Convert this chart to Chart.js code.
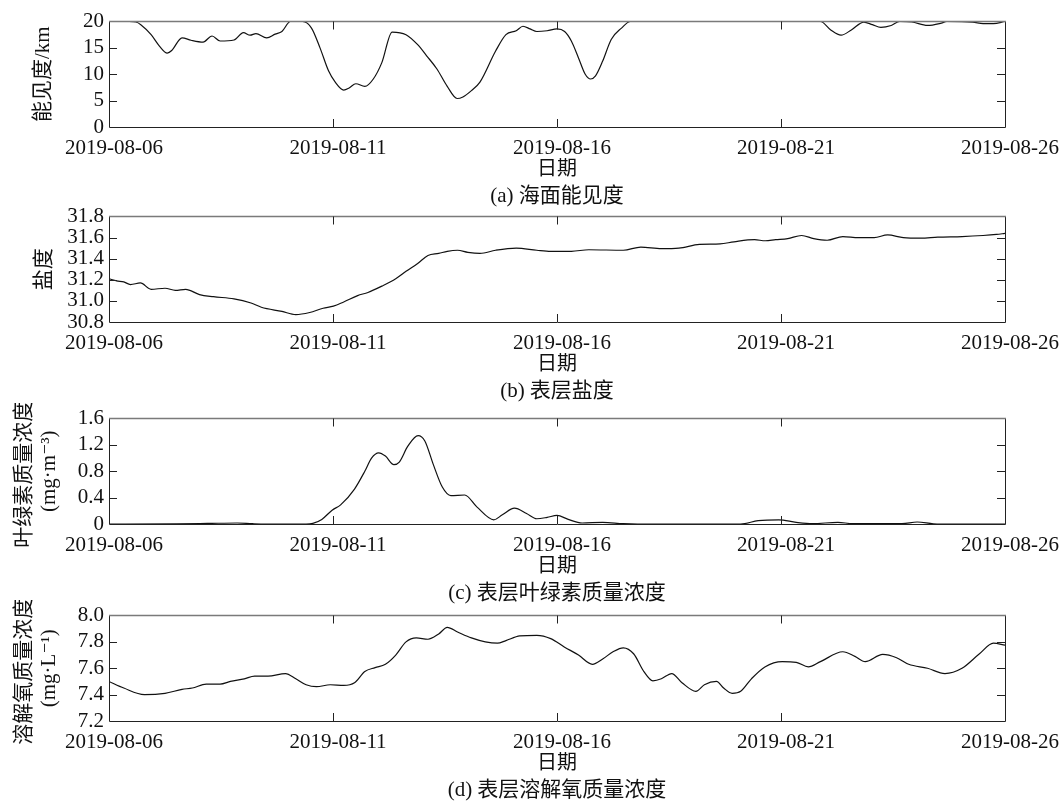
<!DOCTYPE html>
<html>
<head>
<meta charset="utf-8">
<script src="https://cdn.jsdelivr.net/npm/chart.js@4.4.1/dist/chart.umd.min.js"></script>
<style>
  html, body { margin: 0; padding: 0; background: #fff; width: 1062px; height: 801px; overflow: hidden; }
  .panel { position: absolute; left: 0; width: 1062px; height: 202px; }
  canvas { display: block; }
</style>
</head>
<body>
<div class="panel" style="top:6px"><canvas id="visChart" width="1062" height="202"></canvas></div>
<div class="panel" style="top:201px"><canvas id="salChart" width="1062" height="202"></canvas></div>
<div class="panel" style="top:403px"><canvas id="chlChart" width="1062" height="202"></canvas></div>
<div class="panel" style="top:600px"><canvas id="doChart" width="1062" height="202"></canvas></div>
<script>
// x values are days elapsed since 2019-08-06 00:00
const dateTicks = [0, 5, 10, 15, 20];
const dateLabels = ['2019-08-06', '2019-08-11', '2019-08-16', '2019-08-21', '2019-08-26'];

// (a) sea-surface visibility, km
const visibilityDays = [0, 0.45, 0.6, 0.71, 0.94, 1.13, 1.3, 1.4, 1.63, 1.83, 2.1, 2.3, 2.48, 2.79, 3.0, 3.15, 3.28, 3.52, 3.71, 3.86, 4.05, 4.32, 4.52, 4.71, 4.9, 5.05, 5.24, 5.36, 5.51, 5.71, 5.9, 6.09, 6.32, 6.63, 6.89, 7.09, 7.32, 7.55, 7.77, 7.9, 8.09, 8.28, 8.63, 8.86, 9.09, 9.24, 9.4, 9.55, 9.78, 10.0, 10.17, 10.32, 10.48, 10.63, 10.75, 10.86, 11.02, 11.21, 11.44, 11.64, 15.88, 16.11, 16.34, 16.57, 16.85, 17.04, 17.23, 17.46, 17.65, 17.92, 18.27, 18.58, 18.7, 19.28, 19.51, 19.74, 20];
const visibility = [20, 20, 19.9, 19.4, 17.5, 15.3, 14.0, 14.5, 16.9, 16.45, 16.1, 17.25, 16.3, 16.5, 17.9, 17.4, 17.7, 16.9, 17.6, 18.1, 20, 20, 18.75, 15.0, 10.65, 8.5, 7.0, 7.4, 8.2, 7.7, 9.1, 12.2, 18.0, 17.5, 15.6, 13.5, 11.0, 7.7, 5.4, 5.7, 6.9, 8.5, 14.4, 17.5, 18.25, 19.1, 18.6, 18.1, 18.25, 18.6, 18.1, 16.3, 13.1, 10.0, 9.1, 9.7, 12.5, 16.6, 18.75, 20, 20, 18.4, 17.4, 18.4, 19.9, 19.4, 18.9, 19.25, 20, 19.9, 19.25, 19.7, 20, 19.9, 19.6, 19.6, 20];
const visibilityTicks = [0, 5, 10, 15, 20];

// (b) surface salinity
const salinityDays = [0, 0.17, 0.33, 0.48, 0.7, 0.94, 1.25, 1.48, 1.71, 2.02, 2.33, 2.79, 3.17, 3.4, 3.86, 4.17, 4.48, 4.78, 5.01, 5.24, 5.55, 5.78, 6.09, 6.4, 6.63, 6.89, 7.12, 7.36, 7.55, 7.78, 8.01, 8.28, 8.63, 9.09, 9.55, 9.86, 10.32, 10.71, 11.48, 11.87, 12.33, 12.72, 13.18, 13.64, 13.95, 14.41, 14.65, 14.88, 15.15, 15.46, 15.73, 16.03, 16.38, 16.73, 17.08, 17.38, 17.73, 18.12, 18.5, 19.04, 19.51, 19.81, 20];
const salinity = [31.21, 31.19, 31.18, 31.155, 31.17, 31.11, 31.12, 31.10, 31.11, 31.06, 31.04, 31.02, 30.98, 30.94, 30.90, 30.87, 30.89, 30.93, 30.95, 30.99, 31.05, 31.08, 31.14, 31.21, 31.28, 31.355, 31.43, 31.45, 31.47, 31.48, 31.46, 31.45, 31.48, 31.50, 31.48, 31.47, 31.47, 31.485, 31.48, 31.51, 31.495, 31.50, 31.535, 31.54, 31.56, 31.58, 31.57, 31.58, 31.59, 31.62, 31.59, 31.575, 31.61, 31.60, 31.60, 31.625, 31.60, 31.595, 31.605, 31.61, 31.62, 31.63, 31.64];
const salinityTicks = [30.8, 31.0, 31.2, 31.4, 31.6, 31.8];

// (c) surface chlorophyll concentration, mg/m3
const chlorophyllDays = [0, 1.5, 2.2, 2.86, 3.2, 3.5, 4.4, 4.55, 4.75, 4.98, 5.17, 5.48, 5.71, 5.86, 6.02, 6.17, 6.36, 6.48, 6.67, 6.9, 7.05, 7.24, 7.44, 7.63, 7.94, 8.21, 8.59, 8.78, 9.05, 9.32, 9.55, 9.78, 10.0, 10.25, 10.56, 11.02, 11.48, 11.8, 14.1, 14.49, 14.95, 15.34, 15.7, 16.27, 16.6, 17.7, 18.04, 18.4, 18.6, 20];
const chlorophyll = [0, 0.002, 0.008, 0.015, 0.005, 0, 0, 0.01, 0.07, 0.21, 0.29, 0.53, 0.80, 1.00, 1.08, 1.03, 0.90, 0.94, 1.18, 1.34, 1.26, 0.90, 0.56, 0.43, 0.44, 0.26, 0.064, 0.14, 0.24, 0.16, 0.08, 0.10, 0.13, 0.07, 0.015, 0.025, 0.005, 0, 0, 0.05, 0.064, 0.025, 0.005, 0.025, 0.005, 0.005, 0.03, 0.003, 0, 0];
const chlorophyllTicks = [0, 0.4, 0.8, 1.2, 1.6];

// (d) surface dissolved oxygen concentration, mg/L
const oxygenDays = [0, 0.33, 0.79, 1.25, 1.63, 1.86, 2.17, 2.48, 2.71, 3.02, 3.25, 3.55, 3.94, 4.17, 4.4, 4.63, 4.94, 5.24, 5.48, 5.71, 5.94, 6.17, 6.4, 6.63, 6.86, 7.12, 7.36, 7.55, 7.78, 8.09, 8.4, 8.67, 8.86, 9.17, 9.55, 9.86, 10.17, 10.48, 10.79, 11.02, 11.25, 11.48, 11.71, 11.94, 12.14, 12.33, 12.56, 12.79, 13.1, 13.29, 13.56, 13.72, 13.91, 14.1, 14.34, 14.64, 15.03, 15.34, 15.61, 15.88, 16.38, 16.65, 16.88, 17.27, 17.58, 17.85, 18.27, 18.66, 19.04, 19.43, 19.74, 20];
const oxygen = [7.50, 7.45, 7.40, 7.41, 7.44, 7.45, 7.48, 7.48, 7.50, 7.52, 7.54, 7.54, 7.56, 7.52, 7.475, 7.46, 7.475, 7.47, 7.49, 7.575, 7.605, 7.63, 7.70, 7.80, 7.83, 7.82, 7.86, 7.91, 7.875, 7.83, 7.80, 7.79, 7.81, 7.845, 7.85, 7.825, 7.76, 7.70, 7.63, 7.67, 7.725, 7.755, 7.71, 7.575, 7.505, 7.52, 7.56, 7.49, 7.425, 7.475, 7.50, 7.45, 7.41, 7.425, 7.52, 7.61, 7.65, 7.645, 7.61, 7.65, 7.725, 7.69, 7.65, 7.705, 7.68, 7.63, 7.60, 7.56, 7.60, 7.71, 7.79, 7.775];
const oxygenTicks = [7.2, 7.4, 7.6, 7.8, 8.0];

const SERIF = "'Liberation Serif', 'Times New Roman', 'Noto Sans CJK SC', 'DejaVu Serif', serif";
const INK = '#111';

// Box frame with inward-pointing tick marks on all four sides
const frame = {
  id: 'frame',
  afterDatasetsDraw(chart) {
    const { ctx, chartArea: { left, right, top, bottom }, scales: { x, y } } = chart;
    const TL = 8;
    ctx.save();
    ctx.strokeStyle = '#222';
    ctx.lineWidth = 1;
    ctx.beginPath();
    ctx.moveTo(left + 0.5, top);
    ctx.lineTo(left + 0.5, bottom + 0.5);
    ctx.lineTo(right + 0.5, bottom + 0.5);
    ctx.lineTo(right + 0.5, top);
    ctx.stroke();
    ctx.strokeStyle = '#7a7a7a';
    ctx.lineWidth = 1.5;
    ctx.beginPath();
    ctx.moveTo(left, top);
    ctx.lineTo(right + 1, top);
    ctx.stroke();
    ctx.strokeStyle = '#222';
    ctx.lineWidth = 1;
    ctx.beginPath();
    x.ticks.forEach(t => {
      const px = Math.round(x.getPixelForValue(t.value)) + 0.5;
      if (px <= left + 1 || px >= right - 1) return;
      ctx.moveTo(px, bottom); ctx.lineTo(px, bottom - TL);
      ctx.moveTo(px, top); ctx.lineTo(px, top + TL);
    });
    y.ticks.forEach(t => {
      const py = Math.round(y.getPixelForValue(t.value)) + 0.5;
      if (py <= top + 1 || py >= bottom - 1) return;
      ctx.moveTo(left, py); ctx.lineTo(left + TL, py);
      ctx.moveTo(right, py); ctx.lineTo(right - TL, py);
    });
    ctx.stroke();
    ctx.restore();
  }
};

function makePanel(id, days, values, yTicks, yTitle, yTitlePad, caption, fmt) {
  return new Chart(document.getElementById(id), {
    type: 'line',
    data: {
      datasets: [{
        data: days.map((d, i) => ({ x: d, y: values[i] })),
        borderColor: INK,
        borderWidth: 1.2,
        pointRadius: 0,
        cubicInterpolationMode: 'monotone',
        fill: false
      }]
    },
    options: {
      responsive: false,
      animation: false,
      events: [],
      layout: { padding: { top: 14, right: 57, left: 0, bottom: 0 } },
      plugins: {
        legend: { display: false },
        tooltip: { enabled: false },
        title: {
          display: true,
          text: caption,
          position: 'bottom',
          fullSize: false,
          color: INK,
          font: { family: SERIF, size: 21, weight: 'normal', lineHeight: '24px' },
          padding: { top: 2, bottom: 0 }
        }
      },
      scales: {
        x: {
          type: 'linear',
          min: dateTicks[0],
          max: dateTicks[dateTicks.length - 1],
          grid: { display: false, drawTicks: false },
          border: { display: false },
          afterBuildTicks: s => { s.ticks = dateTicks.map(v => ({ value: v })); },
          afterFit: s => { s.height = 55; s.paddingLeft = 0; s.paddingRight = 0; },
          ticks: {
            callback: (v, i) => dateLabels[i],
            maxRotation: 0,
            autoSkip: false,
            padding: 9,
            labelOffset: 5,
            color: INK,
            font: { family: SERIF, size: 21 }
          },
          title: {
            display: true,
            text: '日期',
            color: INK,
            font: { family: SERIF, size: 20, lineHeight: '24px' },
            padding: { top: 0, bottom: 0 }
          }
        },
        y: {
          min: yTicks[0],
          max: yTicks[yTicks.length - 1],
          grid: { display: false, drawTicks: false },
          border: { display: false },
          afterBuildTicks: s => { s.ticks = yTicks.map(v => ({ value: v })); },
          afterFit: s => { s.width = 109; },
          ticks: {
            callback: v => fmt(v),
            autoSkip: false,
            padding: 5,
            color: INK,
            font: { family: SERIF, size: 21, lineHeight: 1 }
          },
          title: {
            display: true,
            text: yTitle,
            color: INK,
            font: { family: SERIF, size: 21, lineHeight: '25px' },
            padding: { top: yTitlePad, bottom: 0 }
          }
        }
      }
    },
    plugins: [frame]
  });
}

const intFmt = v => String(Math.round(v));
const oneDec = v => v.toFixed(1);
const chlFmt = v => (v === 0 ? '0' : v.toFixed(1));

makePanel('visChart', visibilityDays, visibility, visibilityTicks, '能见度/km', 31, '(a) 海面能见度', intFmt);
makePanel('salChart', salinityDays, salinity, salinityTicks, '盐度', 32, '(b) 表层盐度', oneDec);
makePanel('chlChart', chlorophyllDays, chlorophyll, chlorophyllTicks, ['叶绿素质量浓度/', '(mg·m⁻³)'], 12, '(c) 表层叶绿素质量浓度', chlFmt);
makePanel('doChart', oxygenDays, oxygen, oxygenTicks, ['溶解氧质量浓度/', '(mg·L⁻¹)'], 12, '(d) 表层溶解氧质量浓度', oneDec);
</script>
</body>
</html>
